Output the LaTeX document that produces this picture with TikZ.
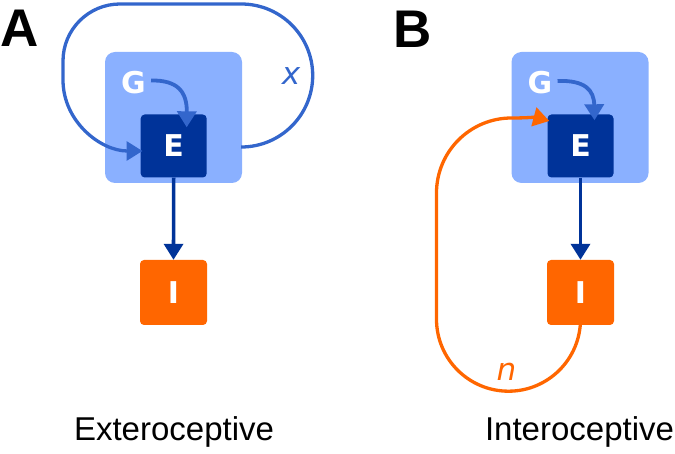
\documentclass[tikz,border=0pt]{standalone}
\usepackage{fontspec}
\setmainfont{Liberation Sans}
\newfontfamily\dejab{DejaVu Sans}[BoldFont=* Bold, ItalicFont=* Oblique]
\usetikzlibrary{arrows.meta,calc}
\definecolor{lightbox}{HTML}{8AB0FF}
\definecolor{darkbox}{HTML}{003399}
\definecolor{loopblue}{HTML}{3366CC}
\definecolor{orng}{HTML}{FF6600}
\begin{document}
\begin{tikzpicture}[x=1pt,y=-1pt,
  outer/.style={draw=none,fill=lightbox,rounded corners=10pt,minimum width=137pt,minimum height=131pt,inner sep=0pt},
  ebox/.style={draw=none,fill=darkbox,rounded corners=4pt,minimum width=66pt,minimum height=63pt,inner sep=0pt,text=white,font=\dejab\bfseries\fontsize{30}{30}\selectfont},
  ibox/.style={draw=none,fill=orng,rounded corners=4pt,minimum width=67pt,minimum height=65pt,inner sep=0pt,text=white,font=\dejab\bfseries\fontsize{30}{30}\selectfont},
  gtext/.style={inner sep=0pt,text=white,font=\dejab\bfseries\fontsize{30}{30}\selectfont},
  panel/.style={inner sep=0pt,font=\bfseries\fontsize{53}{53}\selectfont},
  caption/.style={inner sep=0pt,font=\fontsize{33}{33}\selectfont},
  vartext/.style={inner sep=0pt,font=\dejab\itshape\fontsize{31}{31}\selectfont},
  tip/.style={-{Triangle[length=16pt,width=19pt]}},
]
\useasboundingbox (0,0) rectangle (675,454);
% Panel A
\node[panel] (pA) at (20,28) {A};
\node[outer] (LA) at (173.5,117.5) {};
\node[ebox] (EA) at (173.7,146) {E};
\node[ibox] (IA) at (173.5,292.5) {I};
\node[gtext] (GA) at (133.5,82.5) {G};
\draw[loopblue,line width=3.8pt,tip] ([xshift=5pt,yshift=2pt]GA.east) .. controls (178,80) and (187,92) .. ([xshift=13pt,yshift=-13pt]EA.north);
\draw[darkbox,line width=3.6pt,tip] (EA.south) -- (IA.north);
\coordinate (xa) at ($(LA.east |- EA.center)+(-1,1)$);
\draw[loopblue,line width=3.3pt,tip] (xa) arc[start angle=-90,end angle=90,radius=71.5pt] -- (120,4) arc[start angle=90,end angle=180,radius=57pt] -- (63,80) to[out=-90,in=180] ([xshift=2pt,yshift=-5pt]EA.west);
\node[vartext,text=loopblue] (xl) at (291,76) {x};
\node[caption] (capA) at (174,432) {Exteroceptive};
% Panel B
\node[panel] (pB) at (412.5,29) {B};
\node[outer] (LB) at (580,117.5) {};
\node[ebox] (EB) at (580.5,146) {E};
\node[ibox] (IB) at (580.5,292.5) {I};
\node[gtext] (GB) at (540,83) {G};
\draw[loopblue,line width=3.8pt,tip] ([xshift=5pt,yshift=2pt]GB.east) .. controls (585,80) and (594,90) .. ([xshift=14pt,yshift=-6pt]EB.north);
\draw[darkbox,line width=3.6pt,tip] (EB.south) -- (IB.north);
\coordinate (nb) at ($(IB.south)+(0,-6)$);
\draw[orng,line width=3.3pt,tip] (nb) arc[start angle=0,end angle=-180,radius=72pt] -- (436.5,193) arc[start angle=180,end angle=90,radius=75pt] to[out=0,in=165] ([xshift=2pt,yshift=25pt]EB.west);
\node[vartext,text=orng] (nl) at (506.5,371.5) {n};
\node[caption] (capB) at (579.5,432) {Interoceptive};
\end{tikzpicture}
\end{document}
